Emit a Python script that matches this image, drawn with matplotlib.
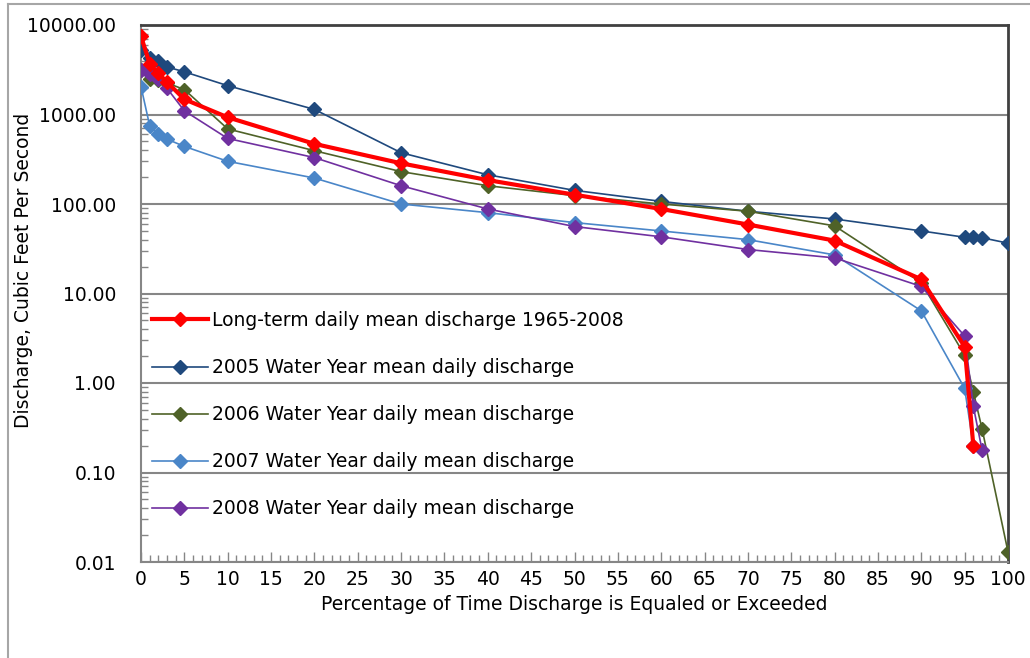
import matplotlib
matplotlib.use("Agg")
import matplotlib.pyplot as plt
from matplotlib.ticker import FixedLocator, MultipleLocator, FormatStrFormatter, NullFormatter
from matplotlib.lines import Line2D

plt.rcParams['font.family'] = ['DejaVu Sans']

# Flow duration data (percent of time exceeded, discharge in cfs)
pct_lt = [0, 1, 2, 3, 5, 10, 20, 30, 40, 50, 60, 70, 80, 90, 95, 96]
q_lt = [7500, 3700, 2900, 2300, 1480, 930, 470, 285, 185, 127, 88, 59, 39, 14.4, 2.55, 0.2]

pct_2005 = [0, 1, 2, 3, 5, 10, 20, 30, 40, 50, 60, 70, 80, 90, 95, 96, 97, 100]
q_2005 = [5200, 4300, 3950, 3400, 3000, 2100, 1140, 374, 212, 142, 107, 83, 68, 50, 42.5, 42.5, 42, 36.5]

pct_2006 = [0, 1, 2, 3, 5, 10, 20, 30, 40, 50, 60, 70, 80, 90, 95, 96, 97, 100]
q_2006 = [3150, 2500, 2400, 2250, 1900, 690, 394, 230, 160, 124, 100, 83, 57, 13.2, 2.05, 0.8, 0.31, 0.013]

pct_2007 = [0, 1, 2, 3, 5, 10, 20, 30, 40, 50, 60, 70, 80, 90, 95, 96]
q_2007 = [2050, 750, 600, 530, 440, 300, 195, 100, 80, 62, 50, 40, 27, 6.4, 0.87, 0.2]

pct_2008 = [0, 1, 2, 3, 5, 10, 20, 30, 40, 50, 60, 70, 80, 90, 95, 96, 97]
q_2008 = [3150, 2850, 2480, 1960, 1100, 540, 330, 160, 88, 56, 43, 31, 25, 12, 3.35, 0.55, 0.18]

fs = 13.5

fig = plt.figure(figsize=(10.3, 6.58), dpi=100)
ax = fig.add_axes([141 / 1030, 1 - 562 / 658, 867 / 1030, 537 / 658])

# chart area border (left and top edges visible)
fig.add_artist(Line2D([8 / 1030, 8 / 1030], [0, 1 - 4 / 658], transform=fig.transFigure, color='#a6a6a6', lw=1.5))
fig.add_artist(Line2D([8 / 1030, 1], [1 - 4 / 658, 1 - 4 / 658], transform=fig.transFigure, color='#a6a6a6', lw=1.5))

ax.plot(pct_lt, q_lt, color='#ff0000', lw=3.0, marker='D', ms=7, zorder=5,
        label='Long-term daily mean discharge 1965-2008')
ax.plot(pct_2005, q_2005, color='#1f497d', lw=1.2, marker='D', ms=7, zorder=4,
        label='2005 Water Year mean daily discharge')
ax.plot(pct_2006, q_2006, color='#4f6228', lw=1.2, marker='D', ms=7, zorder=4,
        label='2006 Water Year daily mean discharge')
ax.plot(pct_2007, q_2007, color='#4a86c8', lw=1.2, marker='D', ms=7, zorder=4,
        label='2007 Water Year daily mean discharge')
ax.plot(pct_2008, q_2008, color='#7030a0', lw=1.2, marker='D', ms=7, zorder=4,
        label='2008 Water Year daily mean discharge')

ax.set_yscale('log')
ax.set_ylim(0.01, 10000)
ax.set_xlim(0, 100)
ax.set_xticks(range(0, 101, 5))
ax.xaxis.set_minor_locator(MultipleLocator(1))
ax.yaxis.set_major_locator(FixedLocator([0.01, 0.1, 1, 10, 100, 1000, 10000]))
ax.yaxis.set_major_formatter(FormatStrFormatter('%.2f'))
ax.yaxis.set_minor_formatter(NullFormatter())

ax.grid(True, axis='y', which='major', color='#868686', lw=1.5)
ax.set_axisbelow(True)

ax.tick_params(axis='both', which='major', labelsize=fs, direction='in', length=0)
ax.tick_params(axis='y', which='major', pad=18)
ax.tick_params(axis='x', which='major', pad=6, length=7, width=1, color='#868686')
ax.tick_params(axis='both', which='minor', direction='in', length=5, width=1, color='#868686')

for s in ['left', 'bottom']:
    ax.spines[s].set_color('#868686')
    ax.spines[s].set_linewidth(1.5)
for s in ['top', 'right']:
    ax.spines[s].set_color('#404040')
    ax.spines[s].set_linewidth(2)

ax.set_xlabel('Percentage of Time Discharge is Equaled or Exceeded', fontsize=fs, labelpad=4)
ax.set_ylabel('Discharge, Cubic Feet Per Second', fontsize=fs)
ax.yaxis.set_label_coords((33 - 141) / 867, (562 - 270) / 537)

ax.legend(loc='upper left', bbox_to_anchor=(11 / 867, (562 - 311) / 537), frameon=False,
          fontsize=fs, handlelength=3.0, handletextpad=0.2, labelspacing=1.5,
          borderpad=0, borderaxespad=0)

fig.savefig('out.png', dpi=100)
